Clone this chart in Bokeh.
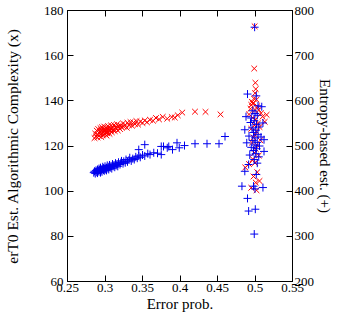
from bokeh.plotting import figure
from bokeh.models import LinearAxis, Range1d, FixedTicker
from bokeh.embed import file_html
from bokeh.resources import INLINE

# Red x markers: erT0 estimated algorithmic complexity (left axis)
red_x = [0.286, 0.287, 0.288, 0.289, 0.290, 0.290, 0.291, 0.292, 0.292, 0.293,
         0.294, 0.294, 0.295, 0.295, 0.296, 0.296, 0.297, 0.297, 0.298, 0.298,
         0.299, 0.299, 0.300, 0.300, 0.301, 0.301, 0.302, 0.302, 0.303, 0.303,
         0.304, 0.304, 0.305, 0.306, 0.306, 0.307, 0.308, 0.308, 0.309, 0.310,
         0.311, 0.312, 0.313, 0.314, 0.315, 0.316, 0.317, 0.318, 0.320, 0.321,
         0.322, 0.324, 0.325, 0.327, 0.329, 0.330, 0.332, 0.334, 0.336, 0.338,
         0.340, 0.342, 0.344, 0.347, 0.350, 0.353, 0.356, 0.360, 0.364, 0.368,
         0.372, 0.377, 0.383, 0.389, 0.393, 0.397, 0.403, 0.420, 0.434, 0.454,
         0.4995, 0.4990, 0.5005, 0.5010, 0.5000, 0.4985, 0.4960, 0.4970, 0.4950, 0.4980,
         0.5020, 0.5030, 0.5050, 0.4940, 0.5000, 0.5080, 0.5100, 0.5155, 0.5130, 0.4920,
         0.4970, 0.5010, 0.5040, 0.4990, 0.5060, 0.4950, 0.5020, 0.5000, 0.4980, 0.5070,
         0.4960, 0.5030, 0.5010, 0.4990, 0.5050, 0.4970, 0.5000, 0.4870, 0.4920, 0.5030,
         0.4980, 0.5010, 0.5020, 0.4950, 0.5060]
red_y = [123.5, 125.5, 124.2, 126.8, 125.0, 123.8, 127.5, 125.8, 124.5, 126.3,
         127.9, 125.2, 124.0, 126.9, 128.3, 125.6, 126.2, 124.8, 127.4, 125.9,
         128.6, 126.5, 125.3, 127.1, 126.0, 128.1, 124.6, 126.7, 127.6, 125.7,
         128.8, 126.4, 127.2, 125.4, 128.0, 126.9, 129.1, 127.5, 126.1, 128.4,
         127.0, 129.3, 126.6, 128.2, 127.8, 129.6, 126.9, 128.7, 127.5, 129.0,
         128.3, 130.0, 128.6, 129.4, 128.1, 130.3, 129.2, 130.6, 129.0, 130.4,
         129.7, 131.0, 129.5, 130.8, 130.2, 131.3, 130.5, 131.6, 131.2, 132.4,
         131.8, 132.9, 132.1, 132.8, 132.6, 133.6, 134.8, 135.2, 135.1, 134.0,
         173.0, 154.3, 148.0, 145.2, 143.4, 141.0, 139.5, 138.8, 138.2, 139.0,
         140.5, 137.6, 136.0, 136.5, 135.8, 134.5, 133.0, 133.8, 130.7, 134.0,
         132.5, 131.8, 130.0, 129.2, 128.4, 127.6, 126.5, 125.0, 123.8, 122.6,
         121.5, 120.3, 118.7, 117.0, 115.8, 114.2, 112.5, 110.5, 112.0, 108.4,
         106.5, 103.8, 100.4, 101.5, 104.5]

# Blue + markers: entropy-based estimate (right axis)
blue_x = [0.285, 0.286, 0.287, 0.288, 0.289, 0.290, 0.290, 0.291, 0.292, 0.292,
          0.293, 0.294, 0.294, 0.295, 0.296, 0.296, 0.297, 0.298, 0.298, 0.299,
          0.300, 0.300, 0.301, 0.302, 0.302, 0.303, 0.304, 0.305, 0.305, 0.306,
          0.307, 0.308, 0.309, 0.310, 0.311, 0.312, 0.313, 0.314, 0.315, 0.316,
          0.317, 0.318, 0.320, 0.321, 0.322, 0.324, 0.325, 0.327, 0.328, 0.330,
          0.332, 0.333, 0.335, 0.337, 0.339, 0.341, 0.343, 0.345, 0.345, 0.347,
          0.350, 0.353, 0.353, 0.357, 0.360, 0.365, 0.370, 0.375, 0.375, 0.378,
          0.383, 0.385, 0.390, 0.396, 0.399, 0.406, 0.420, 0.436, 0.452, 0.460,
          0.4995, 0.4900, 0.5017, 0.5040, 0.5090, 0.4880, 0.4950, 0.5000, 0.4970, 0.5030,
          0.5106, 0.4990, 0.5020, 0.4940, 0.4864, 0.4960, 0.5010, 0.5050, 0.4980, 0.5040,
          0.4920, 0.5000, 0.5080, 0.5120, 0.4970, 0.5030, 0.4890, 0.5000, 0.4950, 0.5060,
          0.5020, 0.4980, 0.5120, 0.5010, 0.4930, 0.5050, 0.4990, 0.4915, 0.5030, 0.4864,
          0.5017, 0.4826, 0.4980, 0.5106, 0.5000, 0.4900, 0.4915, 0.5004, 0.4990]
blue_y = [441, 444, 439, 446, 442, 448, 440, 445, 450, 443,
          447, 441, 452, 446, 449, 443, 454, 447, 451, 445,
          450, 455, 448, 452, 446, 457, 450, 454, 448, 458,
          452, 456, 450, 460, 455, 458, 453, 462, 457, 460,
          455, 464, 459, 463, 467, 461, 466, 463, 470, 465,
          469, 474, 467, 472, 470, 476, 473, 478, 492, 475,
          480, 503, 478, 483, 481, 485, 484, 481, 499, 499,
          496, 499, 492, 507, 496, 501, 505, 505, 505, 521,
          763, 615, 611, 589, 587, 565, 562, 572, 578, 568,
          551, 556, 548, 552, 536, 540, 535, 542, 530, 525,
          522, 518, 520, 514, 512, 508, 507, 502, 497, 500,
          494, 490, 488, 483, 480, 476, 470, 459, 462, 444,
          437, 411, 411, 408, 405, 384, 356, 360, 305]

x_ticks = [0.25, 0.3, 0.35, 0.4, 0.45, 0.5, 0.55]
left_ticks = [60, 80, 100, 120, 140, 160, 180]
right_ticks = [200, 300, 400, 500, 600, 700, 800]

FONT = "Liberation Serif"

p = figure(width=336, height=315, x_range=(0.25, 0.55), y_range=(60, 180),
           output_backend="svg", toolbar_location=None,
           min_border_left=62, min_border_right=39, min_border_top=10, min_border_bottom=34)
p.extra_y_ranges = {"ent": Range1d(200, 800)}
p.grid.visible = False
p.outline_line_color = "black"
p.outline_line_width = 1
p.background_fill_color = "white"
p.border_fill_color = "white"

p.scatter(red_x, red_y, marker="x", size=8, line_color="red", line_width=1)
p.scatter(blue_x, blue_y, marker="cross", size=8, line_color="#0000ee", line_width=1,
          y_range_name="ent")

bottom = p.below[0]
left = p.left[0]
right = LinearAxis(y_range_name="ent")
p.add_layout(right, "right")
top = LinearAxis()
p.add_layout(top, "above")

def style(ax, ticks):
    ax.ticker = FixedTicker(ticks=ticks)
    ax.minor_tick_line_color = None
    ax.major_tick_in = 6
    ax.major_tick_out = 0
    ax.axis_line_color = "black"
    ax.major_tick_line_color = "black"
    ax.major_label_text_font = FONT
    ax.major_label_text_font_size = "13px"
    ax.major_label_text_color = "black"
    ax.axis_label_text_font = FONT
    ax.axis_label_text_font_size = "15px"
    ax.axis_label_text_font_style = "normal"
    ax.axis_label_text_color = "black"

style(bottom, x_ticks)
style(left, left_ticks)
style(right, right_ticks)
style(top, x_ticks)

bottom.axis_label = "Error prob."
bottom.major_label_standoff = 2
bottom.axis_label_standoff = 1
left.axis_label = "erT0 Est. Algorithmic Complexity (x)"
left.axis_label_text_font_size = "15.5px"
left.major_label_standoff = 4
left.axis_label_standoff = 20
right.axis_label = "Entropy-based est. (+)"
right.major_label_standoff = 2
right.axis_label_standoff = 0
top.major_label_text_color = None
top.major_label_text_font_size = "1px"
top.major_label_standoff = 0

open("out.html", "w").write(file_html(p, INLINE))
